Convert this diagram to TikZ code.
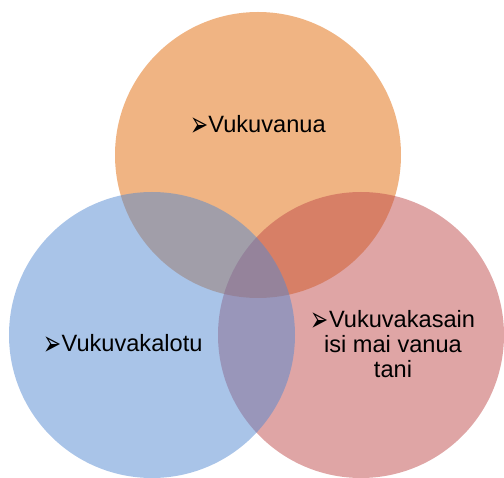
\documentclass[tikz,border=0pt]{standalone}
\usepackage{fontspec}
\usepackage{graphicx}
\setmainfont{Liberation Sans}
\newfontfamily\symfont{DejaVu Sans}
\usetikzlibrary{positioning}

\definecolor{vanuaorange}{RGB}{225,105,7}
\definecolor{lotublue}{RGB}{83,137,209}
\definecolor{taniRed}{RGB}{191,75,75}

\newcommand{\arrowbullet}{\raisebox{-4pt}{\scalebox{0.8}[1.3]{\symfont\fontsize{27}{25}\selectfont ➢}}}

\begin{document}
\begin{tikzpicture}[
    x=1pt, y=-1pt,
    font=\fontsize{23.6}{25}\selectfont,
    ring/.style={circle, draw=none, inner sep=0pt, minimum size=286pt, fill opacity=0.5},
    lab/.style={align=center, text=black, inner sep=0pt}
  ]
    \useasboundingbox (0,0) rectangle (504,478);
    % ---- circles (order gives the blend) ----
    \node[ring, fill=vanuaorange] (vanua) at (258,155) {};
    \node[ring, fill=taniRed]     (tani)  at (361,335) {};
    \node[ring, fill=lotublue]    (lotu)  at (152,335) {};
    % ---- labels ----
    \node[lab, anchor=base] (vanualab) at (258,133) {\arrowbullet Vukuvanua};
    \node[lab, anchor=base] (lotulab)  at (123,352) {\arrowbullet Vukuvakalotu};
    \node[lab] (tanilab) at (393,344) {\arrowbullet Vukuvakasain\\isi mai vanua\\tani};
  \end{tikzpicture}
\end{document}
